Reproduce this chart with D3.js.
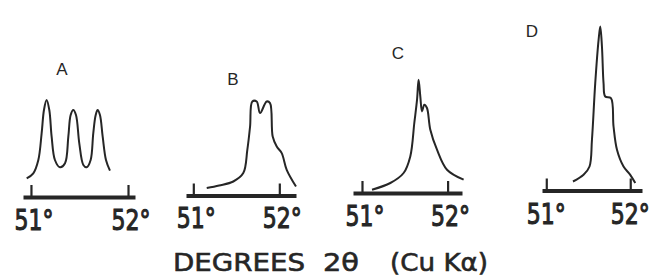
<!DOCTYPE html>
<html><head><meta charset="utf-8">
<script src="https://cdn.jsdelivr.net/npm/d3@7"></script>
<style>
html,body{margin:0;padding:0;background:#fff;}
svg{display:block;}
</style></head>
<body>
<svg id="chart" width="657" height="278"></svg>
<script>
// ---------- data ----------
const panelLabels = ["A", "B", "C", "D"];
const tickValues = [51, 52];
const tickLabels = ["51\u00b0", "52\u00b0"];
const titleParts = ["DEGREES", "2\u03b8", "(Cu K\u03b1)"];

// 2θ (degrees) and relative intensity for each pattern
const xA = [50.956,51.024,51.076,51.110,51.134,51.161,51.189,51.213,51.247,51.299,51.351,51.385,51.409,51.436,51.464,51.498,51.540,51.574,51.615,51.642,51.667,51.687,51.711,51.739,51.773,51.814];
const yA = [18.7,23.7,37,63.7,87,97,87,60.3,37,29.7,33.7,60.3,82,87,82,53.7,32,29.7,37,63.7,82,87,82,60.3,37,26.3];

const xB = [51.156,51.300,51.465,51.581,51.628,51.660,51.686,51.737,51.776,51.853,51.892,51.923,51.970,52.028,52.086,52.194];
const yB = [7.4,10,14,22.4,45.7,69,94,94,82.4,94,92.4,59,49,42.4,25.7,9];

const xC = [51.117,51.331,51.486,51.564,51.611,51.643,51.661,51.681,51.701,51.728,51.759,51.798,51.876,51.993,52.187];
const yC = [3.3,10,20,36.6,70,93.3,113.3,96.6,81.6,88.3,85,63.3,43.3,23.3,13.3];

const xD = [51.318,51.444,51.515,51.544,51.583,51.623,51.643,51.663,51.682,51.702,51.770,51.801,51.842,51.920,52.000,52.060];
const yD = [9,15.7,24,50.7,107.4,150.7,164,144,107.4,94,92.4,64,40.7,24,15.7,7.4];

const axisExtents = [[50.918,52.072],[50.915,52.194],[50.895,52.168],[50.949,52.140]];

// ---------- layout ----------
const layout = [
  {x0:23,  x1:135, base:197, lab:[62,75],  tl:230, dx:3},
  {x0:186, x1:296, base:195.5, lab:[233,85], tl:228, dx:3},
  {x0:353, x1:462, base:193, lab:[398,59], tl:226, dx:3},
  {x0:542, x1:642, base:190.5, lab:[532,37], tl:224, dx:0}
];
const series = [[xA,yA],[xB,yB],[xC,yC],[xD,yD]];
const ink = "#262626";
const labW = 39;

const svg = d3.select("#chart");

series.forEach(([xs, ys], i) => {
  const L = layout[i];
  const x = d3.scaleLinear().domain(axisExtents[i]).range([L.x0, L.x1]);
  const y = d3.scaleLinear().domain([0, 170]).range([L.base, L.base - 170]);
  const g = svg.append("g");

  const ax = g.append("g").attr("transform", `translate(0,${L.base})`)
    .call(d3.axisBottom(x).tickValues(tickValues).tickSizeInner(-12).tickSizeOuter(0).tickFormat(""));
  ax.select(".domain").attr("stroke", ink).attr("stroke-width", 4);
  ax.selectAll(".tick line").attr("stroke", ink).attr("stroke-width", 2.2);

  g.selectAll("text.tl").data(tickValues).join("text")
    .attr("class","tl")
    .attr("x", d => x(d) + L.dx + labW / 2)
    .attr("y", L.tl)
    .attr("text-anchor","end")
    .attr("font-family","'DejaVu Sans', sans-serif")
    .attr("font-size", 29)
    .attr("textLength", labW)
    .attr("lengthAdjust","spacingAndGlyphs")
    .attr("fill", ink)
    .attr("stroke", ink)
    .attr("stroke-width", 1.1)
    .text((d,k) => tickLabels[k]);

  const pts = xs.map((v,k) => [v, ys[k]]);
  g.append("path")
    .attr("d", d3.line().x(d => x(d[0])).y(d => y(d[1])).curve(d3.curveCatmullRom.alpha(0.5))(pts))
    .attr("fill","none").attr("stroke", ink).attr("stroke-width", 2)
    .attr("stroke-linejoin","round");

  g.append("text")
    .attr("x", L.lab[0]).attr("y", L.lab[1])
    .attr("text-anchor","middle")
    .attr("font-family","'Liberation Sans', Arial, sans-serif")
    .attr("font-size", 17)
    .attr("fill", ink)
    .text(panelLabels[i]);
});

// axis title
const titlePos = [[173,132],[323,36],[390,98]];
svg.selectAll("text.title").data(titleParts).join("text")
  .attr("class","title")
  .attr("x", (d,k) => titlePos[k][0])
  .attr("y", 271)
  .attr("font-family","'DejaVu Sans', sans-serif")
  .attr("font-size", 25)
  .attr("textLength", (d,k) => titlePos[k][1])
  .attr("lengthAdjust","spacingAndGlyphs")
  .attr("fill", ink)
  .attr("stroke", ink)
  .attr("stroke-width", 0.6)
  .text(d => d);
</script>
</body></html>
